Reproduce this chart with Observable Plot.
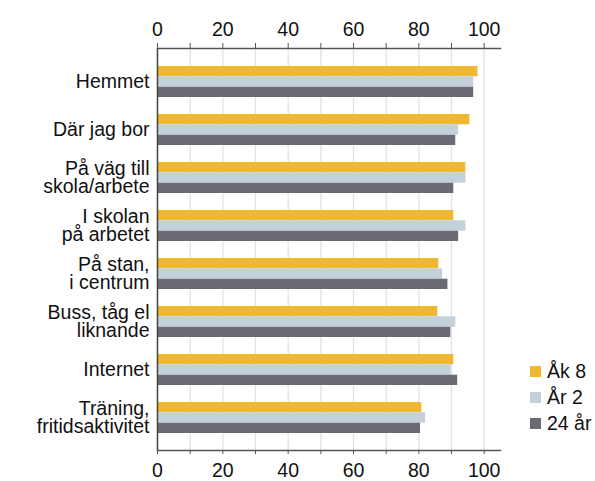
<!DOCTYPE html>
<html><head><meta charset="utf-8">
<script src="https://cdn.jsdelivr.net/npm/d3@7"></script>
<script src="https://cdn.jsdelivr.net/npm/@observablehq/plot@0.6"></script>
<style>
body{margin:0;background:#fff;font-family:"Liberation Sans",Arial,sans-serif;}
#chart{position:relative;width:595px;height:481px;overflow:hidden;}
#legend{position:absolute;left:530px;top:360px;}
.row{position:absolute;left:0;white-space:nowrap;font-size:19.5px;color:#111;line-height:22px;}
.sw{position:absolute;left:0;top:6px;width:11px;height:11px;}
.lb{position:absolute;left:17px;top:0;}
</style></head><body><div id="chart"></div>
<script>
const categories = ["Hemmet","Där jag bor","På väg till skola/arbete","I skolan på arbetet","På stan, i centrum","Buss, tåg el liknande","Internet","Träning, fritidsaktivitet"];
const categoryLabels = ["Hemmet","Där jag bor","På väg till\nskola/arbete","I skolan\npå arbetet","På stan,\ni centrum","Buss, tåg el\nliknande","Internet","Träning,\nfritidsaktivitet"];
const series = ["Åk 8","År 2","24 år"];
const ak8  = [98.1,95.6,94.4,90.7,86.1,85.8,90.7,80.9];
const ar2  = [96.8,92.2,94.4,94.4,87.3,91.3,89.9,82.1];
const ar24 = [96.8,91.3,90.7,92.2,88.9,89.8,91.9,80.5];
const xTicks = [0,10,20,30,40,50,60,70,80,90,100];
const colors = ["#EEB92F","#C5D1DA","#6B6A74"];

const W=595,H=481,mL=157,mR=95,mT=48,mB=31;
const pi=0.36, po=0.32;
const step=(H-mT-mB)/(categories.length-pi+2*po);
const bw=step*(1-pi), sub=bw/3;
const values=[ak8,ar2,ar24];
const data = categories.flatMap((c,i)=>series.map((s,j)=>({category:c, series:s, value:values[j][i]})));
const fmt = d => d%20===0 ? String(d) : "";

const chart = Plot.plot({
  width:W,height:H,marginLeft:mL,marginRight:mR,marginTop:mT,marginBottom:mB,
  style:{fontFamily:"Liberation Sans, Arial, sans-serif",color:"#111",background:"#fff"},
  x:{domain:[0,105]},
  y:{domain:categories,paddingInner:pi,paddingOuter:po},
  marks:[
    Plot.gridX(xTicks,{stroke:"#dde3ea",strokeOpacity:1,strokeWidth:1.3}),
    Plot.barX(data.filter(d=>d.series===series[0]),{x:"value",y:"category",fill:colors[0],insetTop:0,insetBottom:2*sub}),
    Plot.barX(data.filter(d=>d.series===series[1]),{x:"value",y:"category",fill:colors[1],insetTop:sub,insetBottom:sub}),
    Plot.barX(data.filter(d=>d.series===series[2]),{x:"value",y:"category",fill:colors[2],insetTop:2*sub,insetBottom:0}),
    Plot.ruleX([0],{stroke:"#444",strokeWidth:1.5}),
    Plot.frame({anchor:"top",stroke:"#555",strokeWidth:1.5}),
    Plot.frame({anchor:"bottom",stroke:"#555",strokeWidth:1.5}),
    Plot.axisX({anchor:"top",ticks:xTicks,tickFormat:fmt,tickSize:6,tickPadding:7,fontSize:19.5,stroke:"#555",label:null}),
    Plot.axisX({anchor:"bottom",ticks:xTicks,tickFormat:fmt,tickSize:4,tickPadding:9,fontSize:19.5,stroke:"#555",label:null}),
    Plot.axisY({tickSize:0,tickPadding:8,tickFormat:c=>categoryLabels[categories.indexOf(c)],fontSize:19.5,lineHeight:0.93,label:null})
  ]
});
const root=document.getElementById("chart");
root.appendChild(chart);
const lg=document.createElement("div");lg.id="legend";
series.forEach((s,i)=>{
  const r=document.createElement("div");r.className="row";r.style.top=(i*26)+"px";
  const sw=document.createElement("div");sw.className="sw";sw.style.background=colors[i];
  const lb=document.createElement("div");lb.className="lb";lb.textContent=s;
  r.appendChild(sw);r.appendChild(lb);lg.appendChild(r);
});
root.appendChild(lg);
</script></body></html>
